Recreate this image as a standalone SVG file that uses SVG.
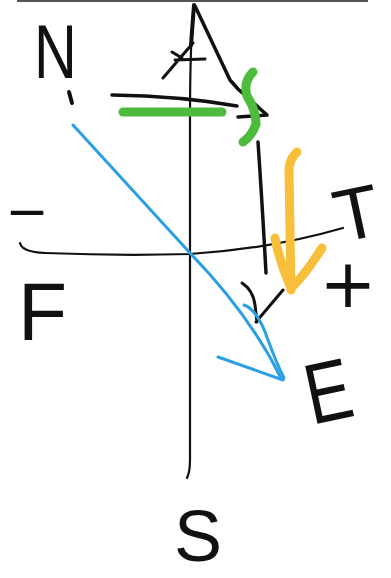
<svg xmlns="http://www.w3.org/2000/svg" width="391" height="578" viewBox="0 0 391 578">
<style>
.ink{fill:none;stroke:#111;stroke-linecap:round;stroke-linejoin:round}
.lbl{font-family:"Liberation Sans",Arial,sans-serif;fill:#111}
.sym{font-family:"DejaVu Sans",sans-serif;fill:#111}
.green{fill:none;stroke:#4dbb3b;stroke-width:9;stroke-linecap:round;stroke-linejoin:round}
.yellow{fill:none;stroke:#f8bf3c;stroke-width:9;stroke-linecap:round;stroke-linejoin:round}
.blue{fill:none;stroke:#2b9fe3;stroke-width:3;stroke-linecap:round;stroke-linejoin:round}
</style>
<rect width="391" height="578" fill="#fff"/>
<line x1="17" y1="1" x2="368" y2="1" stroke="#555" stroke-width="2"/>
<g id="connectors">
  <path class="ink" stroke-width="2.2" d="M194,5 C191,30 190,60 190,120 L190,460 Q190,472 187,478"/>
  <path class="ink" stroke-width="4" d="M194,5 L191,45"/>
  <path class="ink" stroke-width="3.5" d="M195,6 L230,80 L238,89 L267,115 L238,117"/>
  <path class="ink" stroke-width="3" d="M163,78 L193,43 M172,52 L182,58 M175,60 L205,59"/>
  <path class="ink" stroke-width="3.5" d="M112,95 Q180,96 237,106"/>
  <path class="ink" stroke-width="2.2" d="M20,243 Q22,252 45,253 Q120,256 190,254 Q270,249 343,228"/>
  <path class="ink" stroke-width="3.5" d="M258,142 Q262,200 266,273"/>
  <path class="ink" stroke-width="3" d="M242,283 Q253,290 255,305 L257,322 M283,290 L256,322"/>
  <path class="ink" stroke-width="4" d="M69,92 L72,103"/>
  <path class="green" d="M123,112 L222,112"/>
  <path class="green" d="M253,72 Q243,82 247,96 Q256,110 256,124 Q252,136 243,142"/>
  <path class="yellow" d="M297,152 Q289,160 289,170 L291,290"/>
  <path class="yellow" d="M275,238 Q279,260 291,288 Q305,275 322,248"/>
  <path class="blue" d="M73,125 L190,253 Q250,315 281,378"/>
  <path class="blue" d="M244,305 Q258,310 268,340 Q276,362 284,378"/>
  <path class="blue" d="M218,357 L283,380"/>
</g>
<g id="label-N"><text class="lbl" x="0" y="0" font-size="76" transform="translate(34 78) scale(0.78 1)">N</text></g>
<g id="label-S"><text class="lbl" x="174" y="561" font-size="72">S</text></g>
<g id="label-E"><text class="lbl" x="0" y="0" font-size="86" transform="translate(312 425) rotate(-12) scale(0.8 1)">E</text></g>
<g id="label-F"><text class="lbl" x="0" y="0" font-size="82" transform="translate(18 340) scale(0.98 1)">F</text></g>
<g id="label-T"><text class="lbl" x="0" y="0" font-size="74" transform="translate(340 243) rotate(-12)">T</text></g>
<g id="label-plus"><text class="sym" x="348" y="307" font-size="68" text-anchor="middle">+</text></g>
<g id="label-minus"><text class="sym" x="27" y="229" font-size="52" text-anchor="middle">−</text></g>
</svg>
